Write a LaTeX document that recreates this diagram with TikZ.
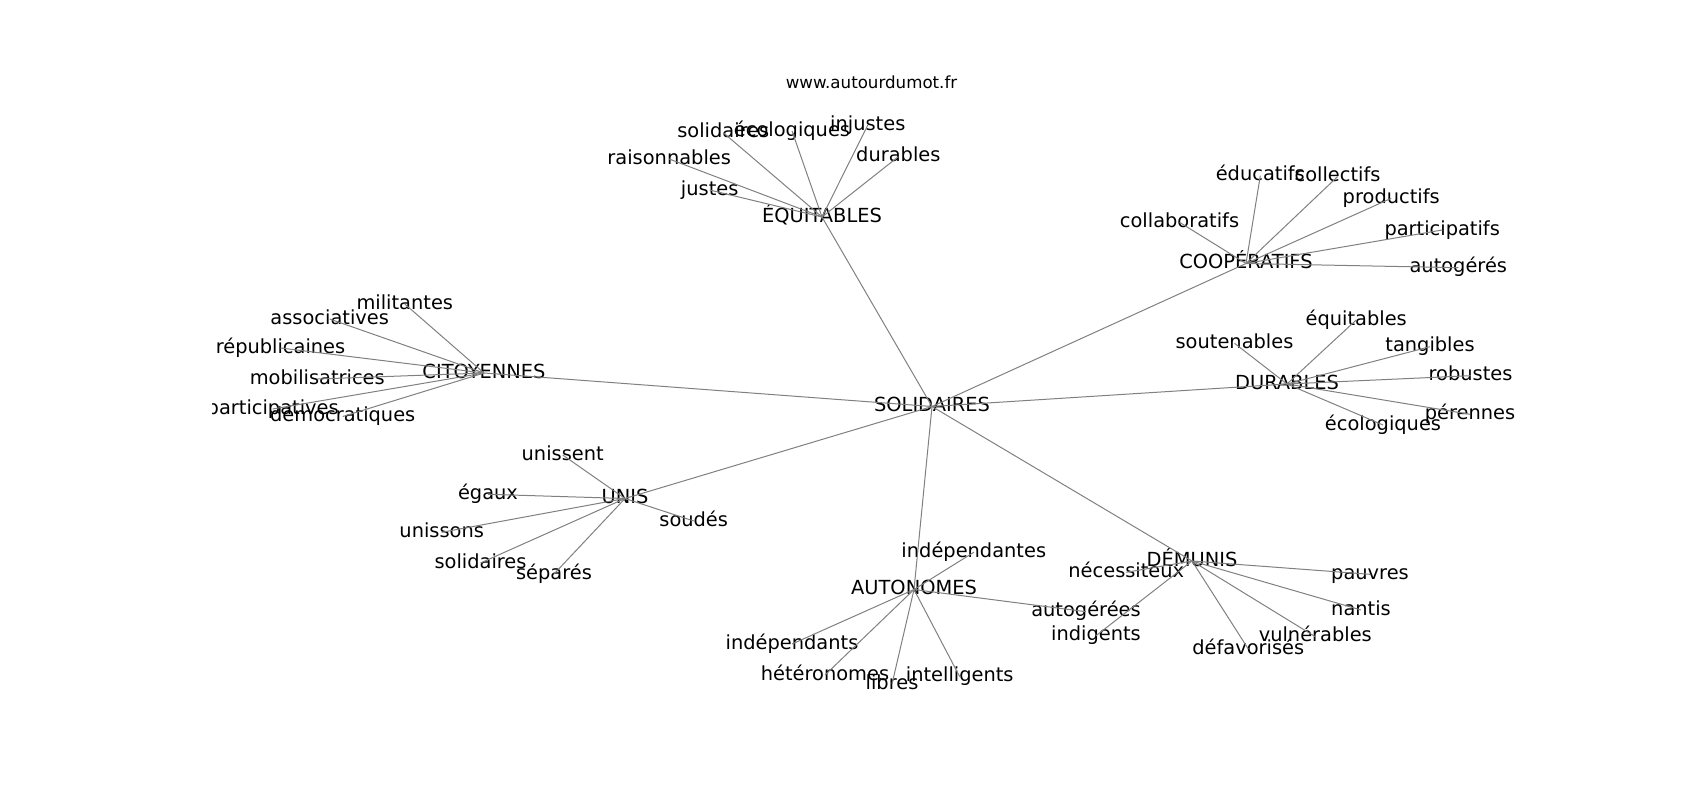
\documentclass[tikz,border=0pt]{standalone}
\usepackage{fontspec}
\setmainfont{DejaVu Sans}
\definecolor{edgegray}{RGB}{128,128,128}
\begin{document}
\begin{tikzpicture}[x=1pt,y=-1pt,
  lbl/.style={inner sep=0pt, text height=14.74pt, text depth=4.66pt, font=\fontsize{19.4}{23}\selectfont},
  ttl/.style={inner sep=0pt, text height=12.67pt, text depth=4pt, font=\fontsize{16.67}{20}\selectfont},
  edge/.style={draw=edgegray, line width=1pt}]
\useasboundingbox (0,0) rectangle (1700,800);
\node[ttl] (title) at (871.5,84) {www.autourdumot.fr};
\begin{scope}
\clip (212.5,96) rectangle (1530,712);
% hubs
\node[lbl] (s) at (932,406.5) {SOLIDAIRES};
\node[lbl] (equ) at (822,217) {ÉQUITABLES};
\node[lbl] (coop) at (1246,263.5) {COOPÉRATIFS};
\node[lbl] (cit) at (484,373) {CITOYENNES};
\node[lbl] (dur) at (1287,384) {DURABLES};
\node[lbl] (unis) at (625,498.5) {UNIS};
\node[lbl] (auto) at (914,589.5) {AUTONOMES};
\node[lbl] (dem) at (1192,561) {DÉMUNIS};
% ÉQUITABLES leaves
\node[lbl] (e1) at (723.3,132.7) {solidaires};
\node[lbl] (e2) at (792,131) {écologiques};
\node[lbl] (e3) at (867.8,125) {injustes};
\node[lbl] (e4) at (669.2,159) {raisonnables};
\node[lbl] (e5) at (898.3,156.7) {durables};
\node[lbl] (e6) at (709.7,190) {justes};
% COOPÉRATIFS leaves
\node[lbl] (c1) at (1260.3,175.7) {éducatifs};
\node[lbl] (c2) at (1337.5,176.7) {collectifs};
\node[lbl] (c3) at (1391.2,198.3) {productifs};
\node[lbl] (c4) at (1179.5,222.3) {collaboratifs};
\node[lbl] (c5) at (1442.2,230) {participatifs};
\node[lbl] (c6) at (1458.3,267.7) {autogérés};
% CITOYENNES leaves
\node[lbl] (t1) at (404.8,304) {militantes};
\node[lbl] (t2) at (329.7,319) {associatives};
\node[lbl] (t3) at (280.5,348) {républicaines};
\node[lbl] (t4) at (317.3,379) {mobilisatrices};
\node[lbl] (t5) at (272.7,409) {participatives};
\node[lbl] (t6) at (342.7,416.5) {démocratiques};
% DURABLES leaves
\node[lbl] (d1) at (1356.2,320) {équitables};
\node[lbl] (d2) at (1234.5,343.3) {soutenables};
\node[lbl] (d3) at (1430,346.7) {tangibles};
\node[lbl] (d4) at (1470.5,375.7) {robustes};
\node[lbl] (d5) at (1470,414.3) {pérennes};
\node[lbl] (d6) at (1383,425) {écologiques};
% UNIS leaves
\node[lbl] (u1) at (562.7,455) {unissent};
\node[lbl] (u2) at (488,494.3) {égaux};
\node[lbl] (u3) at (441.7,532.3) {unissons};
\node[lbl] (u4) at (480.5,563) {solidaires};
\node[lbl] (u5) at (554,574) {séparés};
\node[lbl] (u6) at (693.7,521) {soudés};
% AUTONOMES leaves
\node[lbl] (a1) at (973.8,552.3) {indépendantes};
\node[lbl] (a2) at (1086,611.7) {autogérées};
\node[lbl] (a3) at (792,644) {indépendants};
\node[lbl] (a4) at (825,675) {hétéronomes};
\node[lbl] (a5) at (892,684) {libres};
\node[lbl] (a6) at (959.7,676.7) {intelligents};
% DÉMUNIS leaves
\node[lbl] (m1) at (1126.3,572.3) {nécessiteux};
\node[lbl] (m2) at (1370,574.3) {pauvres};
\node[lbl] (m3) at (1361,610) {nantis};
\node[lbl] (m4) at (1315.3,636.7) {vulnérables};
\node[lbl] (m5) at (1248.3,649) {défavorisés};
\node[lbl] (m6) at (1096,635.7) {indigents};
% edges
\foreach \h in {equ,coop,cit,dur,unis,auto,dem}
  \draw[edge] (s.center) -- (\h.center);
\foreach \l in {e1,e2,e3,e4,e5,e6}
  \draw[edge] (equ.center) -- (\l.center);
\foreach \l in {c1,c2,c3,c4,c5,c6}
  \draw[edge] (coop.center) -- (\l.center);
\foreach \l in {t1,t2,t3,t4,t5,t6}
  \draw[edge] (cit.center) -- (\l.center);
\foreach \l in {d1,d2,d3,d4,d5,d6}
  \draw[edge] (dur.center) -- (\l.center);
\foreach \l in {u1,u2,u3,u4,u5,u6}
  \draw[edge] (unis.center) -- (\l.center);
\foreach \l in {a1,a2,a3,a4,a5,a6}
  \draw[edge] (auto.center) -- (\l.center);
\foreach \l in {m1,m2,m3,m4,m5,m6}
  \draw[edge] (dem.center) -- (\l.center);
\end{scope}
\end{tikzpicture}
\end{document}
